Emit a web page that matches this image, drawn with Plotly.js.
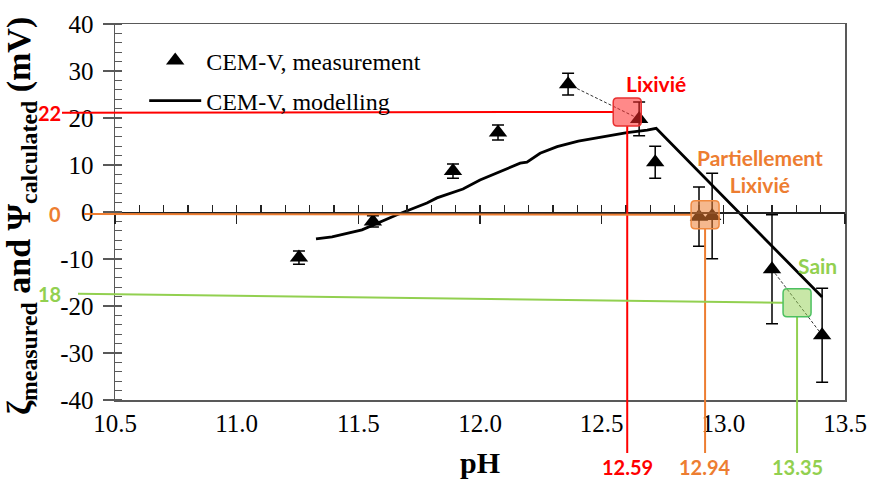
<!DOCTYPE html>
<html><head><meta charset="utf-8">
<script src="https://cdn.plot.ly/plotly-3.0.1.min.js"></script>
<style>html,body{margin:0;padding:0;background:#fff}#chart{width:869px;height:481px}</style>
</head><body><div id="chart"></div>
<script>
// ---- data ----
const measPH   = [11.256, 11.56, 11.889, 12.074, 12.362, 12.654, 12.72, 12.90, 12.954, 13.20, 13.406];
const measZeta = [-9.7, -2.0, 8.7, 16.9, 27.2, 19.8, 10.6, -1.0, -0.85, -12.2, -26.2];
const measErr  = [1.4, 1.2, 1.5, 1.6, 2.3, 3.6, 3.4, 6.3, 9.1, 11.6, 10.0];
const modelPH   = [11.326, 11.392, 11.515, 11.589, 11.659, 11.782, 11.823, 11.93, 12.0, 12.165, 12.193, 12.247, 12.317, 12.404, 12.506, 12.604, 12.687, 12.724, 13.406];
const modelZeta = [-5.7, -5.3, -3.8, -2.1, -0.6, 1.9, 3.0, 4.9, 6.8, 10.4, 10.6, 12.5, 13.9, 15.1, 16.0, 16.9, 17.4, 17.8, -18.1];
const dashPairs = [[4, 5], [9, 10]];
const seriesNames = ['CEM-V, measurement', 'CEM-V, modelling'];

const stateNames   = ['Lixivié', 'Partiellement<br>Lixivié', 'Sain'];
const statePH      = [12.605, 12.925, 13.303];
const stateZeta    = [21.3, -0.6, -19.3];
const stateLineStartZeta = [21.1, -0.4, -17.4];
const statePHText  = ['12.59', '12.94', '13.35'];
const stateZetaText = ['22', '0', '18'];
const stateNamePH   = [12.724, 13.151, 13.385];
const stateNameZeta = [27.4, 8.7, -11.3];

const xRange = [10.5, 13.5];
const yRange = [-40, 40];
const yTickVals = [-40, -30, -20, -10, 0, 10, 20, 30, 40];
const yTickText = ['-40', '-30', '-20', '-10', '0', '10', '20', '30', '40'];
const yTitle = 'ζ<sub>measured</sub> and Ψ<sub>calculated</sub> (mV)';
const xTitle = 'pH';

// ---- style ----
const W = 869, H = 481;
const M = {l: 115, r: 24, t: 24, b: 81};
const plotW = W - M.l - M.r, plotH = H - M.t - M.b;
const stateColors = ['#FF0000', '#ED7D31', '#92D050'];
const stateFill   = ['rgba(255,40,40,0.55)', 'rgba(237,125,49,0.55)', 'rgba(146,208,80,0.5)'];
const stateBorder = ['#E83030', '#F08A40', '#4CC060'];
const lineStartPx = [62, 84, 78];
const lineBottomPx = 453;
const boxHalf = 14, boxR = 4;
const serif = 'Liberation Serif', sans = 'Lato';
const axisGrey = '#595959';

const xPaper = v => (v - xRange[0]) / (xRange[1] - xRange[0]);
const yPaper = v => (v - yRange[0]) / (yRange[1] - yRange[0]);
const dxPx = px => px * (xRange[1] - xRange[0]) / plotW;
const dyPx = px => px * (yRange[1] - yRange[0]) / plotH;

const traces = [];
dashPairs.forEach(p => traces.push({
  x: [measPH[p[0]], measPH[p[1]]], y: [measZeta[p[0]], measZeta[p[1]]],
  mode: 'lines', line: {color: '#333', width: 1, dash: '3px,2px'},
  showlegend: false, hoverinfo: 'skip'
}));
traces.push({
  x: modelPH, y: modelZeta, mode: 'lines', name: seriesNames[1],
  line: {color: '#000', width: 2.8}, legendgroup: 'b', legendrank: 2
});
traces.push({
  x: measPH, y: measZeta, mode: 'markers', name: seriesNames[0],
  marker: {symbol: 'triangle-up', size: 16, color: '#000'},
  error_y: {type: 'data', array: measErr, visible: true, color: '#000', thickness: 1.5, width: 6},
  legendgroup: 'a', legendrank: 1
});
traces.push({x: [], y: [], xaxis: 'x2', showlegend: false, hoverinfo: 'skip'});
traces.push({x: [], y: [], xaxis: 'x3', showlegend: false, hoverinfo: 'skip'});

const shapes = [];
const annotations = [];
stateNames.forEach((n, i) => {
  const hx = dxPx(boxHalf), hy = dyPx(boxHalf), rx = dxPx(boxR), ry = dyPx(boxR);
  const cx = statePH[i], cy = stateZeta[i];
  shapes.push({type: 'line', xref: 'paper', yref: 'y',
    x0: (lineStartPx[i] - M.l) / plotW, y0: stateLineStartZeta[i],
    x1: xPaper(cx) - boxHalf / plotW, y1: cy,
    line: {color: stateColors[i], width: 2}});
  shapes.push({type: 'line', xref: 'x', yref: 'paper',
    x0: cx, x1: cx, y0: yPaper(cy) - boxHalf / plotH, y1: (H - M.b - lineBottomPx) / plotH,
    line: {color: stateColors[i], width: 2}});
  const x0 = cx - hx, x1 = cx + hx, y0 = cy - hy, y1 = cy + hy;
  const path = `M ${x0 + rx},${y1} L ${x1 - rx},${y1} Q ${x1},${y1} ${x1},${y1 - ry} L ${x1},${y0 + ry} Q ${x1},${y0} ${x1 - rx},${y0} L ${x0 + rx},${y0} Q ${x0},${y0} ${x0},${y0 + ry} L ${x0},${y1 - ry} Q ${x0},${y1} ${x0 + rx},${y1} Z`;
  shapes.push({type: 'path', xref: 'x', yref: 'y', path: path,
    fillcolor: stateFill[i], line: {color: stateBorder[i], width: 1.5}});
  annotations.push({xref: 'x', yref: 'y', x: stateNamePH[i], y: stateNameZeta[i], text: n,
    showarrow: false, font: {family: sans, size: 21, color: stateColors[i], weight: 'bold'}});
  annotations.push({xref: 'x', yref: 'paper', x: cx, y: (H - M.b - 467) / plotH, text: statePHText[i],
    showarrow: false, yanchor: 'middle', font: {family: sans, size: 20, color: stateColors[i], weight: 'bold'}});
  annotations.push({xref: 'paper', yref: 'y', x: (63 - M.l) / plotW, xanchor: 'right', y: stateLineStartZeta[i],
    text: stateZetaText[i], showarrow: false, yanchor: 'middle',
    font: {family: sans, size: 20, color: stateColors[i], weight: 'bold'}});
});
annotations.push({xref: 'paper', yref: 'paper', x: (21 - M.l) / plotW, y: (H - M.b - 216) / plotH,
  xanchor: 'center', yanchor: 'middle', textangle: -90, text: yTitle, showarrow: false,
  font: {family: serif, size: 34, color: '#000', weight: 'bold'}});

const layout = {
  width: W, height: H, margin: M,
  font: {family: serif, color: '#000'},
  paper_bgcolor: '#fff', plot_bgcolor: '#fff',
  showlegend: true,
  legend: {x: 0.040, y: 0.962, xanchor: 'left', yanchor: 'top', bgcolor: 'rgba(0,0,0,0)',
    font: {family: serif, size: 24, color: '#000'}, traceorder: 'grouped', tracegroupgap: 6, itemwidth: 52},
  xaxis: {range: xRange, dtick: 0.5, tickformat: '.1f', ticks: '', showgrid: false, zeroline: false,
    showline: true, mirror: true, linecolor: axisGrey, linewidth: 1.5,
    tickfont: {family: serif, size: 25, color: '#000'},
    title: {text: xTitle, font: {family: serif, size: 30, color: '#000', weight: 'bold'}, standoff: 16}},
  xaxis2: {range: xRange, overlaying: 'x', anchor: 'free', position: 0.5, dtick: 0.5,
    ticks: 'outside', ticklen: 10, tickwidth: 1.5, tickcolor: '#222', showticklabels: false,
    showline: true, linecolor: '#222', linewidth: 1.5, showgrid: false, zeroline: false},
  xaxis3: {range: xRange, overlaying: 'x', anchor: 'free', position: 0.5, dtick: 0.1, tick0: 10.5,
    ticks: 'inside', ticklen: 7, tickwidth: 1.2, tickcolor: '#222', showticklabels: false,
    showline: false, showgrid: false, zeroline: false},
  yaxis: {range: yRange, tickvals: yTickVals, ticktext: yTickText, ticks: 'outside', ticklen: 11,
    tickwidth: 1.5, tickcolor: axisGrey, showgrid: false, zeroline: false,
    showline: true, mirror: true, linecolor: axisGrey, linewidth: 1.5,
    minor: {dtick: 2, ticks: 'inside', ticklen: 7, tickwidth: 1.2, tickcolor: axisGrey},
    ticklabelstandoff: 4,
    tickfont: {family: serif, size: 25, color: '#000'}},
  shapes: shapes,
  annotations: annotations
};

Plotly.newPlot('chart', traces, layout, {displayModeBar: false, staticPlot: true});
</script>
</body></html>
